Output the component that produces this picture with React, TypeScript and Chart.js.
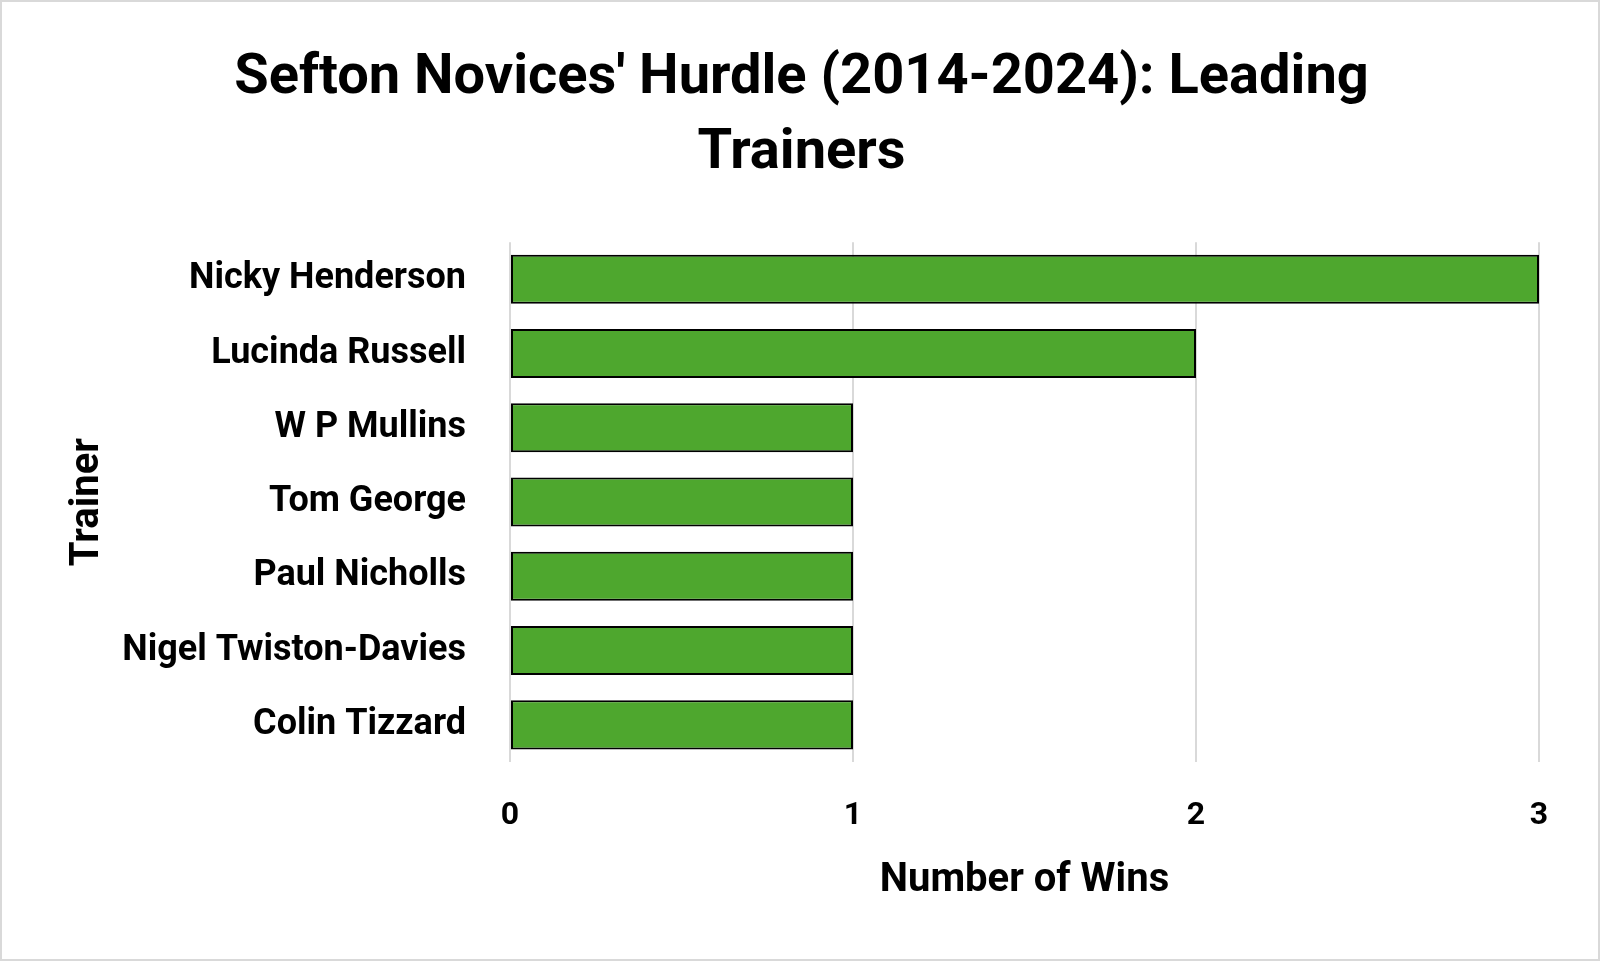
import * as React from "react";
import { useEffect, useRef } from "react";
import { Chart, registerables } from "chart.js";

const trainers: string[] = [
    "Nicky Henderson",
    "Lucinda Russell",
    "W P Mullins",
    "Tom George",
    "Paul Nicholls",
    "Nigel Twiston-Davies",
    "Colin Tizzard",
];
const wins: number[] = [3, 2, 1, 1, 1, 1, 1];
const titleLines: string[] = ["Sefton Novices' Hurdle (2014-2024): Leading", "Trainers"];

const FONT = "'Roboto', 'Liberation Sans', sans-serif";

function App() {
    const canvasRef = useRef<HTMLCanvasElement>(null);

    useEffect(() => {
        document.body.style.margin = "0";
        const ctx = canvasRef.current?.getContext("2d");
        if (!ctx) return;
        Chart.register(...registerables);

        const chart = new Chart(ctx, {
            type: "bar",
            data: {
                labels: trainers,
                datasets: [{
                    data: wins,
                    backgroundColor: "#4ea72e",
                    borderColor: "#000000",
                    borderWidth: 2,
                    borderSkipped: false,
                    categoryPercentage: 1,
                    barPercentage: 0.66,
                }],
            },
            options: {
                indexAxis: "y",
                animation: false,
                responsive: true,
                maintainAspectRatio: false,
                layout: { padding: { top: 0, left: 62, right: 59, bottom: 54 } },
                plugins: {
                    legend: { display: false },
                    tooltip: { enabled: false },
                    title: {
                        display: true,
                        text: titleLines,
                        color: "#000000",
                        font: { family: FONT, size: 56, weight: "bold", lineHeight: 1.35 },
                        padding: { top: 39, bottom: 50 },
                    },
                },
                scales: {
                    x: {
                        min: 0,
                        max: 3,
                        afterFit: (scale: any) => { scale.height = 143; },
                        ticks: {
                            stepSize: 1,
                            color: "#000000",
                            padding: 35,
                            font: { family: FONT, size: 32, weight: "bold" },
                        },
                        grid: { color: "#d9d9d9", lineWidth: 2, drawTicks: false },
                        border: { display: false },
                        title: {
                            display: true,
                            text: "Number of Wins",
                            color: "#000000",
                            padding: { top: 10, bottom: 0 },
                            font: { family: FONT, size: 40, weight: "bold" },
                        },
                    },
                    y: {
                        afterFit: (scale: any) => { scale.width = 446; },
                        ticks: {
                            color: "#000000",
                            padding: 44,
                            font: { family: FONT, size: 36, weight: "bold" },
                        },
                        grid: { display: false, drawTicks: false },
                        border: { display: false },
                        title: {
                            display: true,
                            text: "Trainer",
                            color: "#000000",
                            padding: { top: 0, bottom: 10 },
                            font: { family: FONT, size: 40, weight: "bold" },
                        },
                    },
                },
            },
        });

        return () => {
            chart.destroy();
        };
    }, []);

    return (
        <div style={{
            position: "absolute", left: 0, top: 0, width: 1600, height: 961,
            boxSizing: "border-box", border: "2px solid #d9d9d9", background: "#ffffff",
        }}>
            <canvas ref={canvasRef}></canvas>
        </div>
    );
}

export default App;
